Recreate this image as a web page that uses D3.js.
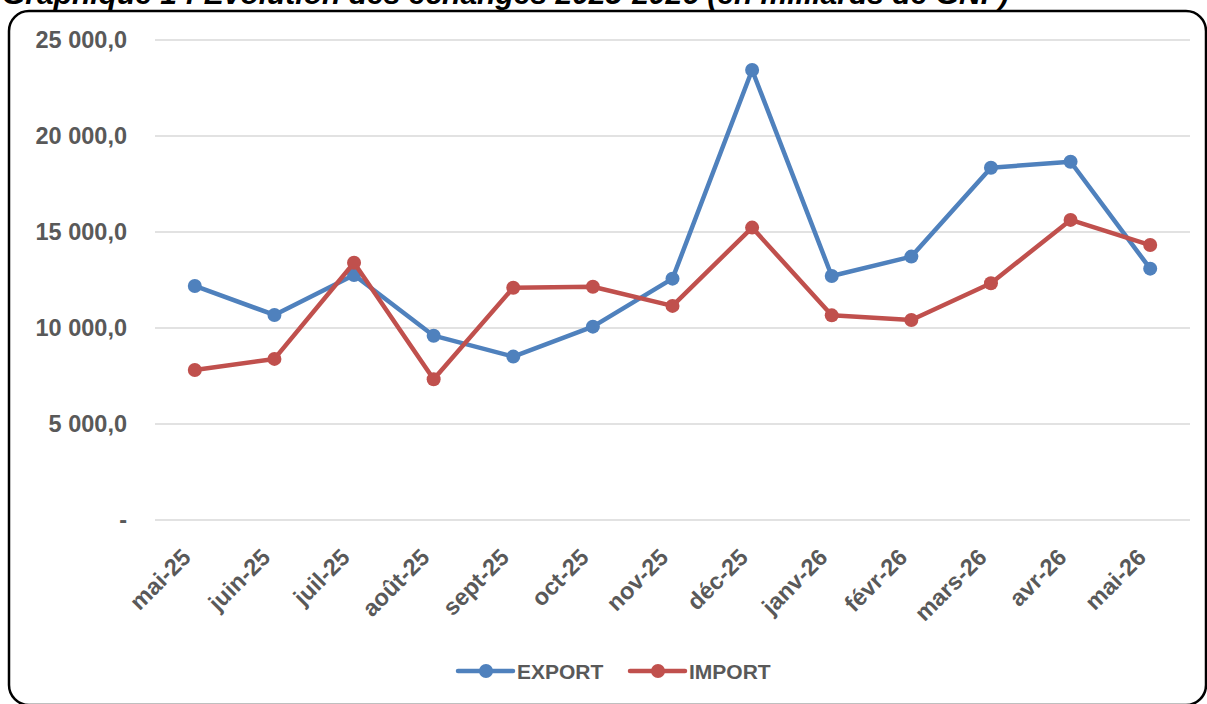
<!DOCTYPE html>
<html>
<head>
<meta charset="utf-8">
<script src="https://cdn.jsdelivr.net/npm/d3@7"></script>
<style>
  body { margin: 0; background: #fff; }
  svg { display: block; font-family: "Liberation Sans", Arial, sans-serif; }
  .axis text { fill: #595959; font-weight: bold; }
  .grid line { stroke: #d9d9d9; stroke-width: 1.5; }
</style>
</head>
<body>
<div class="chart"></div>
<script>
const months = [ "mai-25", "juin-25", "juil-25", "août-25", "sept-25", "oct-25", "nov-25",
  "déc-25", "janv-26", "févr-26", "mars-26", "avr-26", "mai-26" ];
const exportValues = [ 12190, 10680, 12760, 9600, 8510, 10070, 12570, 23440, 12710, 13720, 18350, 18660, 13090 ];
const importValues = [ 7810, 8390, 13400, 7330, 12100, 12150, 11150, 15230, 10660, 10420, 12330, 15630, 14320 ];
const yTicks = [ 0, 5000, 10000, 15000, 20000, 25000 ];

const series = [
  { name: "EXPORT", color: "#4f81bd", values: exportValues },
  { name: "IMPORT", color: "#c0504d", values: importValues }
];

const width  = 1207;
const height = 704;
const margin = { top: 40, right: 17, bottom: 184, left: 155 };

const svg = d3.select( ".chart" )
  .append( "svg" )
    .attr( "width", width )
    .attr( "height", height );

// cadre arrondi + titre coupé en haut
svg.append( "rect" )
  .attr( "x", 9 )
  .attr( "y", 11 )
  .attr( "width", 1197 )
  .attr( "height", 694 )
  .attr( "rx", 20 )
  .attr( "fill", "none" )
  .attr( "stroke", "#000" )
  .attr( "stroke-width", 2.5 );

svg.append( "text" )
  .attr( "x", 2 )
  .attr( "y", 4 )
  .attr( "font-size", 30 )
  .attr( "font-weight", "bold" )
  .attr( "font-style", "italic" )
  .attr( "fill", "#000" )
  .text( "Graphique 1 : Evolution des échanges 2025-2026 (en milliards de GNF)" );

const g = svg.append( "g" )
  .attr( "transform", `translate( ${ margin.left }, ${ margin.top } )` );

const innerW = width - margin.left - margin.right;
const innerH = height - margin.top - margin.bottom;

const xScale = d3.scalePoint()
  .domain( months )
  .range( [ 0, innerW ] )
  .padding( 0.5 );

const yScale = d3.scaleLinear()
  .domain( [ 0, 25000 ] )
  .range( [ innerH, 0 ] );

const fmt = v => v === 0 ? "-" : d3.format( ",.1f" )( v ).replace( ",", " " ).replace( ".", "," );

g.append( "g" )
  .attr( "class", "grid" )
  .selectAll( "line" )
  .data( yTicks )
  .enter()
    .append( "line" )
    .attr( "x1", 0 )
    .attr( "x2", innerW )
    .attr( "y1", d => yScale( d ) )
    .attr( "y2", d => yScale( d ) );

const yAxis = d3.axisLeft( yScale )
  .tickValues( yTicks )
  .tickFormat( fmt )
  .tickSize( 0 )
  .tickPadding( 28 );

g.append( "g" )
  .attr( "class", "y axis" )
  .call( yAxis )
  .call( s => s.select( ".domain" ).remove() )
  .selectAll( "text" )
    .attr( "font-size", 23.5 );

const xAxis = d3.axisBottom( xScale ).tickSize( 0 );

g.append( "g" )
  .attr( "class", "x axis" )
  .attr( "transform", `translate( 0, ${ innerH } )` )
  .call( xAxis )
  .call( s => s.select( ".domain" ).remove() )
  .selectAll( "text" )
    .attr( "font-size", 23.5 )
    .attr( "text-anchor", "end" )
    .attr( "dy", "0.35em" )
    .attr( "y", 0 )
    .attr( "transform", "translate( -9, 33 ) rotate( -45 )" );

const line = d3.line()
  .x( ( d, i ) => xScale( months[ i ] ) )
  .y( d => yScale( d ) );

const s = g.selectAll( "g.series" )
  .data( series )
  .enter()
    .append( "g" )
    .attr( "class", "series" );

s.append( "path" )
  .attr( "d", d => line( d.values ) )
  .attr( "fill", "none" )
  .attr( "stroke", d => d.color )
  .attr( "stroke-width", 4.5 )
  .attr( "stroke-linejoin", "round" );

s.selectAll( "circle" )
  .data( d => d.values.map( v => ( { v, color: d.color } ) ) )
  .enter()
    .append( "circle" )
    .attr( "cx", ( d, i ) => xScale( months[ i ] ) )
    .attr( "cy", d => yScale( d.v ) )
    .attr( "r", 7 )
    .attr( "fill", d => d.color );

// légende
const legend = svg.append( "g" )
  .attr( "transform", "translate( 458, 671 )" );

const item = legend.selectAll( "g" )
  .data( series )
  .enter()
    .append( "g" )
    .attr( "transform", ( d, i ) => `translate( ${ i * 172 }, 0 )` );

item.append( "line" )
  .attr( "x1", 0 )
  .attr( "x2", 55 )
  .attr( "stroke", d => d.color )
  .attr( "stroke-width", 4.5 )
  .attr( "stroke-linecap", "round" );

item.append( "circle" )
  .attr( "cx", 28 )
  .attr( "r", 7 )
  .attr( "fill", d => d.color );

item.append( "text" )
  .attr( "x", 59 )
  .attr( "dy", "0.36em" )
  .attr( "font-size", 21 )
  .attr( "font-weight", "bold" )
  .attr( "fill", "#595959" )
  .text( d => d.name );
</script>
</body>
</html>
